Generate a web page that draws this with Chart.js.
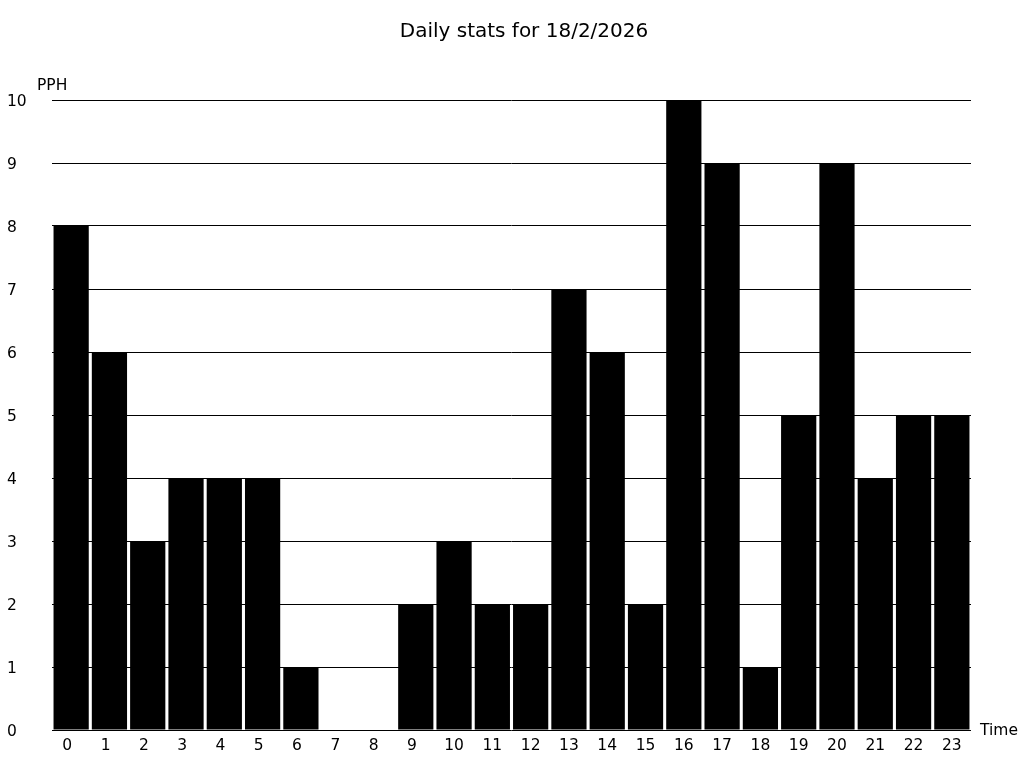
<!DOCTYPE html>
<html>
<head>
<meta charset="utf-8">
<script src="https://cdn.jsdelivr.net/npm/chart.js@4"></script>
<style>
html,body{margin:0;padding:0;background:#fff;}
#wrap{width:1024px;height:768px;position:relative;}
</style>
</head>
<body>
<div id="wrap"><canvas id="c" width="1024" height="768"></canvas></div>
<script>
const titleText = "Daily stats for 18/2/2026";
const yAxisLabel = "PPH";
const xAxisLabel = "Time";
const hours = ["0","1","2","3","4","5","6","7","8","9","10","11","12","13","14","15","16","17","18","19","20","21","22","23"];
const pph = [8,6,3,4,4,4,1,0,0,2,3,2,2,7,6,2,10,9,1,5,9,4,5,5];
const yTicks = [0,1,2,3,4,5,6,7,8,9,10];

const FONT = "'DejaVu Sans', sans-serif";

const textPlugin = {
  id: 'texts',
  afterDraw(chart) {
    const ctx = chart.ctx;
    const ca = chart.chartArea;
    ctx.save();
    ctx.fillStyle = '#000';
    ctx.font = "20px " + FONT;
    ctx.textAlign = 'center';
    ctx.textBaseline = 'middle';
    ctx.fillText(titleText, 524, 32);
    ctx.font = "15.5px " + FONT;
    ctx.textAlign = 'left';
    ctx.fillText(yAxisLabel, 37, 86);
    ctx.fillText(xAxisLabel, ca.right + 9, 731);
    ctx.restore();
  }
};

new Chart(document.getElementById('c'), {
  type: 'bar',
  data: {
    labels: hours,
    datasets: [{
      data: pph,
      backgroundColor: '#000',
      borderWidth: 0,
      barPercentage: 0.92,
      categoryPercentage: 1.0
    }]
  },
  options: {
    responsive: false,
    animation: false,
    devicePixelRatio: 1,
    layout: { padding: { left: 7, right: 53, top: 100, bottom: 0 } },
    plugins: {
      legend: { display: false },
      title: { display: false },
      tooltip: { enabled: false }
    },
    scales: {
      x: {
        grid: { display: false, drawTicks: false },
        border: { display: false },
        ticks: {
          color: '#000', font: { family: FONT, size: 15.5 }, padding: 7, maxRotation: 0, autoSkip: false,
          callback(v) { const s = hours[v]; return s.length === 1 ? s + '\u2002' : s; }
        },
        afterFit(s) { s.height = 38; }
      },
      y: {
        min: 0, max: 10,
        afterBuildTicks(s) { s.ticks = yTicks.map(v => ({ value: v })); },
        grid: { color: '#000', lineWidth: 1, drawTicks: false },
        border: { display: false },
        ticks: { color: '#000', font: { family: FONT, size: 15.5 }, crossAlign: 'far', padding: 0, labelOffset: 1.5 },
        afterFit(s) { s.width = 45; }
      }
    }
  },
  plugins: [textPlugin]
});
</script>
</body>
</html>
